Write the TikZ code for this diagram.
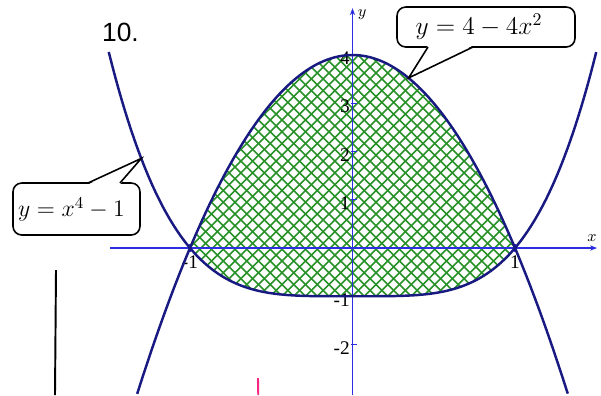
\RequirePackage{fix-cm}
\documentclass[tikz,border=0pt]{standalone}
\usepackage{fontspec}
\newfontfamily\numfont{Liberation Sans}
\newfontfamily\tickfont{Liberation Serif}
\usetikzlibrary{arrows.meta}
\definecolor{navycol}{RGB}{25,25,130}
\definecolor{axiscol}{RGB}{45,45,225}
\definecolor{hatchcol}{RGB}{40,145,40}
\definecolor{pinkcol}{RGB}{250,40,130}
\tikzset{
  curve/.style={draw=navycol, line width=1.4pt},
  axis/.style={draw=axiscol, line width=0.6pt},
  hatch/.style={draw=hatchcol, line width=0.95pt},
  callout/.style={draw=black, line width=0.9pt},
  ticklbl/.style={font=\tickfont\fontsize{11}{12}\selectfont, inner sep=1pt},
}
\begin{document}
\begin{tikzpicture}[>={Stealth[length=4pt]}]
\useasboundingbox (-7.05,-2.94) rectangle (4.97,4.96);

% hatched region between the two curves
\begin{scope}
\clip[x=3.25cm,y=0.965cm] plot[domain=-1:1,samples=60] (\x,{4-4*\x*\x}) -- plot[domain=1:-1,samples=60] (\x,{\x*\x*\x*\x-1}) -- cycle;
\foreach \i in {-45,...,25} \draw[hatch] (\i*0.235,-1.2) -- ++(5.5,5.5);
\foreach \i in {-15,...,36} \draw[hatch] (\i*0.235,-1.2) -- ++(-5.5,5.5);
\end{scope}

\begin{scope}[x=3.25cm,y=0.965cm]
\draw[axis,->] (-1.49,0) -- (1.505,0);
\draw[axis,->] (0,-3.05) -- (0,4.97);
\node[font=\fontsize{9}{10}\selectfont] (xlbl) at (1.474,0.21) {$x$};
\node[font=\fontsize{9}{10}\selectfont] (ylbl) at (0.06,4.83) {$y$};
\foreach \k in {-2,-1,1,2,3,4} {
  \draw[axis] (-0.012,\k) -- (0.025,\k);
  \node[ticklbl, left] at (-0.004,\k-0.07) {\k};
}
\foreach \k in {-1,1} {
  \draw[axis] (\k,-0.08) -- (\k,0.08);
  \node[ticklbl, below] at (\k,-0.12) {\k};
}
\draw[curve] plot[domain=-1.5:1.5,samples=90,smooth] (\x,{\x*\x*\x*\x-1});
\draw[curve] plot[domain=-1.325:1.325,samples=90,smooth] (\x,{4-4*\x*\x});
\coordinate (tipA) at (-1.3,1.856);
\coordinate (tipB) at (0.345,3.524);
\end{scope}

\node[font=\numfont\fontsize{15}{18}\selectfont] (num) at (-4.64,4.31) {10.};

% callout of the quartic
\draw[callout, rounded corners=5pt] (-6.79,0.26) rectangle (-4.25,1.30);
\fill[white] (-5.29,1.27) -- (tipA) -- (-4.65,1.27) -- cycle;
\draw[callout] (-5.29,1.30) -- (tipA) -- (-4.65,1.30);
\node[font=\fontsize{13.5}{16}\selectfont] (lblA) at (-5.62,0.77) {$y=x^4-1$};

% callout of the parabola
\draw[callout, rounded corners=5pt] (0.89,4.02) rectangle (4.45,4.82);
\fill[white] (1.51,4.05) -- (tipB) -- (2.41,4.05) -- cycle;
\draw[callout] (1.51,4.02) -- (tipB) -- (2.41,4.02);
\node[font=\fontsize{14.5}{17}\selectfont] (lblB) at (2.53,4.42) {$y=4-4x^2$};

% stray pen marks
\draw[line width=1.1pt] (-5.93,-0.44) -- (-5.95,-2.94);
\draw[pinkcol, line width=1.1pt] (-1.89,-2.6) -- (-1.885,-2.94);
\end{tikzpicture}
\end{document}
